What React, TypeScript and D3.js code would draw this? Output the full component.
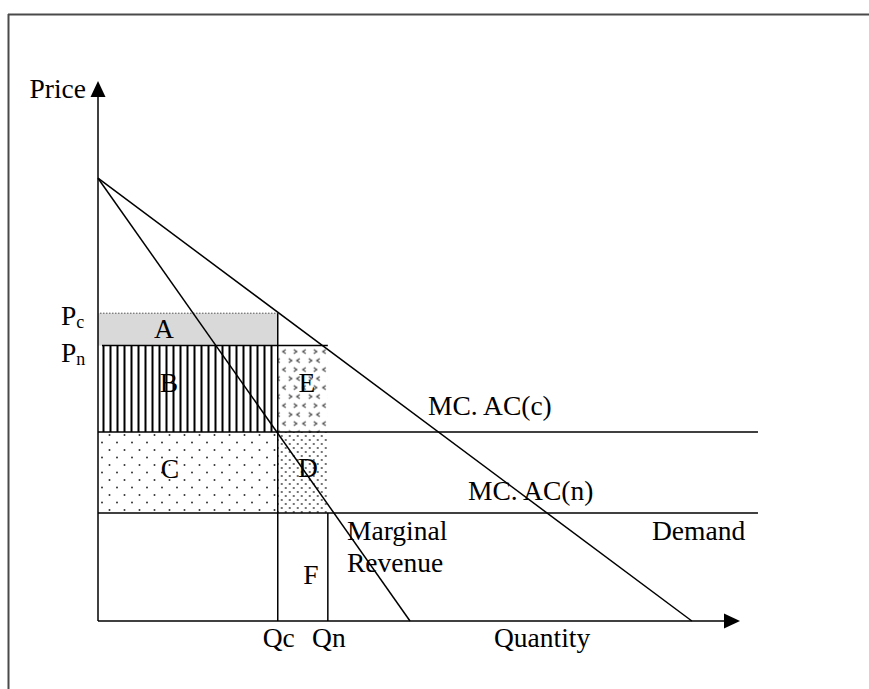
import React from "react";
import * as d3 from "d3";

// ---- data (abstract units: quantity 0..100, price 0..100) ----
const demandPoints = [
  { q: 0, p: 82 },
  { q: 92.5, p: 0 },
];
const marginalRevenuePoints = [
  { q: 0, p: 82 },
  { q: 48.6, p: 0 },
];
const costNames = ["MC. AC(c)", "MC. AC(n)"];
const costLevels = [35, 20];
const costEnd = 102.8;
const priceNames = ["P", "P"];
const priceSubs = ["c", "n"];
const priceLevels = [57, 51];
const quantityNames = ["Qc", "Qn"];
const quantityLevels = [28, 35.8];
const axisMax = 100;

const W = 869;
const H = 689;
const FONT = "'Liberation Serif', 'Times New Roman', serif";

export default function App() {
  const x = d3.scaleLinear().domain([0, axisMax]).range([98, 740]);
  const y = d3.scaleLinear().domain([0, axisMax]).range([621, 81]);
  const line = d3
    .line<{ q: number; p: number }>()
    .x((d) => x(d.q))
    .y((d) => y(d.p));

  const [Pc, Pn] = priceLevels;
  const [Qc, Qn] = quantityLevels;
  const [MCc, MCn] = costLevels;

  const x0 = x(0);
  const y0 = y(0);

  const chev = { fill: "none", stroke: "#444", strokeWidth: 1.2 };

  return (
    <svg
      width={W}
      height={H}
      style={{ position: "absolute", left: 0, top: 0, background: "#fff" }}
      fontFamily={FONT}
    >
      <defs>
        <pattern id="stripes" patternUnits="userSpaceOnUse" width={7} height={10} x={x0} y={0}>
          <rect x={4.5} y={0} width={2} height={10} fill="#000" />
        </pattern>
        <pattern id="sparseDots" patternUnits="userSpaceOnUse" width={15} height={15} x={x0 + 4} y={y(MCc) + 3}>
          <circle cx={7.5} cy={0} r={1} fill="#333" />
          <circle cx={0} cy={7.5} r={1} fill="#333" />
          <circle cx={15} cy={7.5} r={1} fill="#333" />
          <circle cx={7.5} cy={15} r={1} fill="#333" />
        </pattern>
        <pattern id="denseDots" patternUnits="userSpaceOnUse" width={8} height={8} x={x(Qc) + 2} y={y(MCc) + 2}>
          <circle cx={2} cy={2} r={0.9} fill="#333" />
          <circle cx={6} cy={6} r={0.9} fill="#333" />
        </pattern>
        <pattern id="confetti" patternUnits="userSpaceOnUse" width={20} height={18} x={x(Qc) + 3} y={y(Pn) + 3}>
          <path d="M5 1 L2 3 L5 5" {...chev} />
          <path d="M13 1 L16 3 L13 5" {...chev} />
          <path d="M8 10 L11 12 L8 14" {...chev} />
          <path d="M19 10 L16 12 L19 14" {...chev} />
        </pattern>
      </defs>

      {/* frame */}
      <line x1={8.5} y1={14} x2={8.5} y2={H} stroke="#4a4a4a" strokeWidth={2} />
      <line x1={8} y1={14.5} x2={W} y2={14.5} stroke="#4a4a4a" strokeWidth={2} />

      {/* areas */}
      <rect x={x0} y={y(Pc)} width={x(Qc) - x0} height={y(Pn) - y(Pc)} fill="#d9d9d9" />
      <rect x={x0} y={y(Pn)} width={x(Qc) - x0} height={y(MCc) - y(Pn)} fill="url(#stripes)" />
      <rect x={x(Qc)} y={y(Pn)} width={x(Qn) - x(Qc)} height={y(MCc) - y(Pn)} fill="url(#confetti)" />
      <rect x={x0} y={y(MCc)} width={x(Qc) - x0} height={y(MCn) - y(MCc)} fill="url(#sparseDots)" />
      <rect x={x(Qc)} y={y(MCc)} width={x(Qn) - x(Qc)} height={y(MCn) - y(MCc)} fill="url(#denseDots)" />

      {/* price lines */}
      <line x1={x0 + 2} y1={y(Pc)} x2={x(Qc)} y2={y(Pc)} stroke="#555" strokeWidth={1} strokeDasharray="1.5,1.5" />
      <line x1={x0 + 4} y1={y(Pn)} x2={x(Qn)} y2={y(Pn)} stroke="#000" strokeWidth={1.5} />

      {/* quantity lines */}
      <line x1={x(Qc)} y1={y(Pc)} x2={x(Qc)} y2={y0} stroke="#000" strokeWidth={1.5} />
      <line x1={x(Qn)} y1={y(MCn)} x2={x(Qn)} y2={y0} stroke="#000" strokeWidth={1.5} />

      {/* cost lines */}
      {costLevels.map((c, i) => (
        <line key={costNames[i]} x1={x0} y1={y(c)} x2={x(costEnd)} y2={y(c)} stroke="#000" strokeWidth={1.5} />
      ))}

      {/* demand & MR */}
      <path d={line(demandPoints) || ""} fill="none" stroke="#000" strokeWidth={1.5} />
      <path d={line(marginalRevenuePoints) || ""} fill="none" stroke="#000" strokeWidth={1.5} />

      {/* axes */}
      <line x1={x0} y1={y0} x2={x(axisMax) - 14} y2={y0} stroke="#000" strokeWidth={1.5} />
      <path d={`M${x(axisMax)},${y0} L${x(axisMax) - 16},${y0 - 7.5} L${x(axisMax) - 16},${y0 + 7.5} Z`} fill="#000" />
      <line x1={x0} y1={y0} x2={x0} y2={y(axisMax) + 14} stroke="#000" strokeWidth={1.5} />
      <path d={`M${x0},${y(axisMax)} L${x0 - 7.5},${y(axisMax) + 16} L${x0 + 7.5},${y(axisMax) + 16} Z`} fill="#000" />

      {/* text */}
      <g fontSize={27.5} fill="#000">
        <text x={x0 - 12} y={y(axisMax) + 17} textAnchor="end">Price</text>
        {priceLevels.map((p, i) => (
          <text key={i} x={61} y={y(p) + 12 + i * 4}>
            {priceNames[i]}
            <tspan fontSize={18} dy={3}>{priceSubs[i]}</tspan>
          </text>
        ))}
        <text x={164} y={338} textAnchor="middle">A</text>
        <text x={169} y={392} textAnchor="middle">B</text>
        <text x={307} y={392} textAnchor="middle">E</text>
        <text x={170} y={478} textAnchor="middle">C</text>
        <text x={308} y={477} textAnchor="middle">D</text>
        <text x={311} y={584} textAnchor="middle">F</text>
        <text x={347} y={540}>Marginal</text>
        <text x={347} y={572}>Revenue</text>
        <text x={428} y={y(MCc) - 17}>{costNames[0]}</text>
        <text x={468} y={y(MCn) - 13}>{costNames[1]}</text>
        <text x={652} y={540}>Demand</text>
        {quantityLevels.map((q, i) => (
          <text key={quantityNames[i]} x={x(q) + 1} y={647} textAnchor="middle">
            {quantityNames[i]}
          </text>
        ))}
        <text x={494} y={647}>Quantity</text>
      </g>
    </svg>
  );
}
